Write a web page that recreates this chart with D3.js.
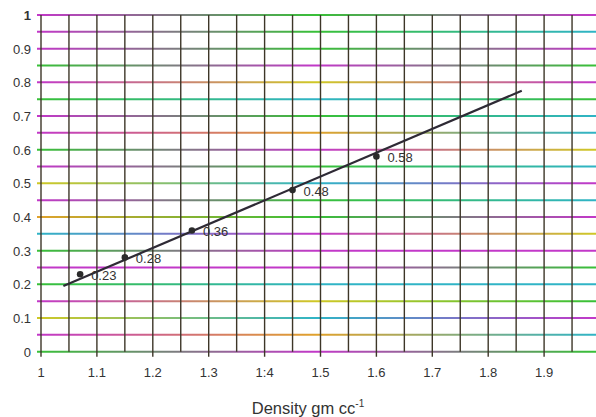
<!DOCTYPE html>
<head>
<meta charset="utf-8">
<title>Density chart</title>
<script src="https://cdn.jsdelivr.net/npm/d3@7"></script>
<style>
  body { margin: 0; background: #fff; }
  text { font-family: "Liberation Sans", Arial, sans-serif; fill: #333; }
</style>
</head>
<body>
<svg width="596" height="417"></svg>
<script>
// measured points (density, value)
var density = [1.07, 1.15, 1.27, 1.45, 1.60]
var values  = [0.23, 0.28, 0.36, 0.48, 0.58]
var pointLabels = ['0.23', '0.28', '0.36', '0.48', '0.58']

// fitted line end points
var fitX = [1.04, 1.86]
var fitY = [0.195, 0.775]

var xTicks = [1, 1.1, 1.2, 1.3, 1.4, 1.5, 1.6, 1.7, 1.8, 1.9]
var xTickLabels = ['1', '1.1', '1.2', '1.3', '1:4', '1.5', '1.6', '1.7', '1.8', '1.9']
var yTicks = [0, 0.1, 0.2, 0.3, 0.4, 0.5, 0.6, 0.7, 0.8, 0.9, 1]
var yTickLabels = ['0', '0.1', '0.2', '0.3', '0.4', '0.5', '0.6', '0.7', '0.8', '0.9', '1']

// scanned-paper look: each horizontal rule fades through a few inks
var M = '#c238c8', G = '#38c038', Y = '#cfc826', C = '#30b4c6', O = '#e0a22c'
var ruleInks = [
  [G, M, G], [M, O, C], [Y, C, M], [M, Y, G], [G, C, C],
  [M, M, G], [G, M, M], [C, M, Y], [O, G, M], [M, G, C],
  [Y, C, M], [M, G, C], [G, M, Y], [M, O, C], [M, G, C],
  [G, C, G], [M, Y, M], [G, M, G], [M, G, M], [M, G, C],
  [M, G, M]
]

var svg = d3.select('svg')
var x = d3.scaleLinear().domain([1, 2]).range([41, 600])
var y = d3.scaleLinear().domain([0, 1]).range([351.7, 15])

var defs = svg.append('defs')
var rules = d3.range(0, 21).map(function (i) { return i * 0.05 })

rules.forEach(function (v, i) {
  var g = defs.append('linearGradient').attr('id', 'rule' + i)
    .attr('gradientUnits', 'userSpaceOnUse')
    .attr('x1', 37).attr('x2', 596).attr('y1', 0).attr('y2', 0)
  ruleInks[i].forEach(function (c, k, a) {
    g.append('stop').attr('offset', k / (a.length - 1)).attr('stop-color', c)
  })
})

// horizontal coloured rules
svg.append('g').selectAll('line').data(rules).enter().append('line')
  .attr('x1', 37).attr('x2', 596)
  .attr('y1', function (d) { return y(d) }).attr('y2', function (d) { return y(d) })
  .attr('stroke', function (d, i) { return 'url(#rule' + i + ')' })
  .attr('stroke-width', 2)

// vertical rules every 0.05, major ones poke below the axis
var verts = d3.range(0, 20).map(function (i) { return 1 + i * 0.05 })
svg.append('g').selectAll('line').data(verts).enter().append('line')
  .attr('x1', function (d) { return x(d) }).attr('x2', function (d) { return x(d) })
  .attr('y1', y(1))
  .attr('y2', function (d, i) { return i % 2 ? y(0) : y(0) + 5 })
  .attr('stroke', '#3d3628')
  .attr('stroke-width', 1.4)

// axis labels
svg.append('g').selectAll('text').data(xTicks).enter().append('text')
  .attr('x', function (d) { return x(d) }).attr('y', 377)
  .attr('text-anchor', 'middle')
  .attr('font-size', 13)
  .text(function (d, i) { return xTickLabels[i] })

svg.append('g').selectAll('text').data(yTicks).enter().append('text')
  .attr('x', 31).attr('y', function (d) { return y(d) + 5 })
  .attr('text-anchor', 'end')
  .attr('font-size', 13)
  .attr('font-weight', function (d) { return d === 1 ? 'bold' : null })
  .text(function (d, i) { return yTickLabels[i] })

var title = svg.append('text').attr('x', 308).attr('y', 414)
  .attr('text-anchor', 'middle').attr('font-size', 16.5)
title.append('tspan').text('Density gm cc')
title.append('tspan').attr('dy', -7).attr('font-size', 10).text('-1')

// fitted line
var fit = fitX.map(function (d, i) { return [d, fitY[i]] })
svg.append('path').datum(fit)
  .attr('d', d3.line().x(function (d) { return x(d[0]) }).y(function (d) { return y(d[1]) }))
  .attr('stroke', '#2e2a35').attr('stroke-width', 2.2).attr('fill', 'none')

// points + labels
var pts = density.map(function (d, i) { return { d: d, v: values[i], t: pointLabels[i] } })
svg.append('g').selectAll('circle').data(pts).enter().append('circle')
  .attr('cx', function (p) { return x(p.d) }).attr('cy', function (p) { return y(p.v) })
  .attr('r', 3.3).attr('fill', '#2b2b2b')

svg.append('g').selectAll('text').data(pts).enter().append('text')
  .attr('x', function (p) { return x(p.d) + 11 }).attr('y', function (p) { return y(p.v) + 6 })
  .attr('font-size', 13)
  .text(function (p) { return p.t })
</script>
</body>
